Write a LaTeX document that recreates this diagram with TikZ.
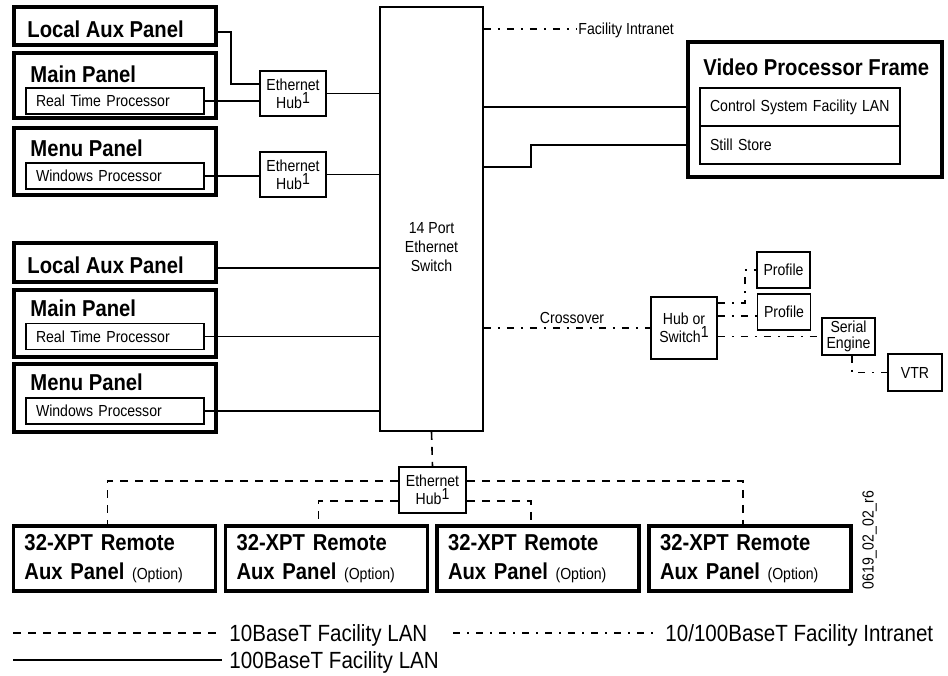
\documentclass[tikz,border=0pt]{standalone}
\usepackage{fontspec}
\setmainfont{Liberation Sans}[FakeStretch=0.88]
\newcommand{\supone}{\raisebox{2.5pt}{1}}
\newcommand{\optfont}{\fontsize{8}{9}\selectfont\mdseries}

\begin{document}
\begin{tikzpicture}[x=0.5pt,y=-0.5pt,
  lan100/.style={line width=0.8pt},
  lan10/.style={line width=0.8pt,dash pattern=on 4pt off 3.5pt},
  intranet/.style={line width=0.8pt,dash pattern=on 3.5pt off 3.5pt on 1pt off 3.5pt},
  panel/.style={draw,line width=1.7pt,minimum width=101pt,inner sep=0pt},
  rpanel/.style={panel,minimum height=32.5pt,text width=90pt,inner xsep=5.5pt,align=left,
    font=\fontsize{11.5}{14.5}\selectfont\bfseries},
  ptitle/.style={anchor=west,inner sep=0pt,text depth=0pt,font=\fontsize{11.5}{13}\selectfont\bfseries},
  subbox/.style={draw,line width=0.8pt,minimum height=13pt,text width=79pt,inner xsep=5pt,
    inner ysep=0pt,align=left,font=\fontsize{8}{9.5}\selectfont},
  hub/.style={draw,line width=0.8pt,minimum width=33pt,minimum height=22.5pt,inner sep=0pt,
    align=center,font=\fontsize{8}{9}\selectfont},
  dev/.style={draw,line width=0.8pt,minimum width=26.5pt,minimum height=18pt,inner sep=0pt,
    align=center,font=\fontsize{8}{7.8}\selectfont},
  smalltxt/.style={inner sep=0pt,text depth=0pt,font=\fontsize{8}{9.3}\selectfont},
  lbl/.style={anchor=west,inner xsep=1pt,inner ysep=0pt,text depth=0pt},
  legend/.style={lbl,inner xsep=3.5pt,font=\fontsize{11.7}{13}\selectfont}]
\useasboundingbox (0,0) rectangle (948,675);

% switch
\node[draw,lan100,minimum width=51.5pt,minimum height=212pt,inner sep=0pt] (sw) at (431.5,219) {};
\node[inner sep=0pt,align=center,font=\fontsize{8}{9.3}\selectfont] (swtxt) at (431.5,247) {14 Port\\Ethernet\\Switch};

% panels, top group
\node[panel,minimum height=19pt] (lap1) at (115,26) {};
\node[ptitle] (lap1t) at (27,29) {Local Aux Panel};
\node[panel,minimum height=32.5pt] (mp1) at (115,85.5) {};
\node[ptitle] (mp1t) at (30,74) {Main Panel};
\node[subbox] (rtp1) at (115,101) {Real Time Processor};
\node[panel,minimum height=33.5pt] (menu1) at (115,161.5) {};
\node[ptitle] (menu1t) at (30,148) {Menu Panel};
\node[subbox] (wp1) at (115,176) {Windows Processor};

\node[hub] (hub1) at (293,93.5) {Ethernet\\Hub\supone};
\node[hub] (hub2) at (293,174.5) {Ethernet\\Hub\supone};

\draw[lan100] ([yshift=-3pt]lap1.east) -- ++(6.5pt,0) |- ([yshift=4.75pt]hub1.west);
\draw[lan100] (rtp1.east) -- (rtp1.east -| hub1.west);
\draw[lan100] (hub1.east) -- (hub1.east -| sw.west);
\draw[lan100] (wp1.east) -- (wp1.east -| hub2.west);
\draw[lan100] (hub2.east) -- (hub2.east -| sw.west);

% panels, middle group
\node[panel,minimum height=19.5pt] (lap2) at (115,262.5) {};
\node[ptitle] (lap2t) at (27,265) {Local Aux Panel};
\node[panel,minimum height=33.5pt] (mp2) at (115,323.5) {};
\node[ptitle] (mp2t) at (30,308) {Main Panel};
\node[subbox] (rtp2) at (115,336.5) {Real Time Processor};
\node[panel,minimum height=34pt] (menu2) at (115,398) {};
\node[ptitle] (menu2t) at (30,382) {Menu Panel};
\node[subbox] (wp2) at (115,411) {Windows Processor};

\draw[lan100] ([yshift=-2.75pt]lap2.east) -- ([yshift=-2.75pt]lap2.east -| sw.west);
\draw[lan100] (rtp2.east) -- (rtp2.east -| sw.west);
\draw[lan100] (wp2.east) -- (wp2.east -| sw.west);

% video processor frame
\node[panel,minimum width=127pt,minimum height=67.5pt] (vpf) at (815,109.5) {};
\node[ptitle] (vpft) at (703,67.5) {Video Processor Frame};
\node[subbox,text width=90pt,minimum height=19pt] (csfl) at (800,107) {Control System Facility LAN};
\node[subbox,text width=90pt,minimum height=19pt] (ss) at (800,145) {Still Store};

\node[lbl,font=\fontsize{8}{9.3}\selectfont] (fitxt) at (576,29) {Facility Intranet};
\draw[intranet] (sw.east |- fitxt.west) -- (fitxt.west);
\draw[lan100] (sw.east |- csfl.west) -- (vpf.west |- csfl.west);
\coordinate (ssbend) at (531,167);
\draw[lan100] (sw.east |- ssbend) -- (ssbend) |- (vpf.west |- ss.west);

% crossover side
\node[hub,minimum height=31pt] (hos) at (684,328) {Hub or\\Switch\supone};
\node[smalltxt] (xover) at (572,318) {Crossover};
\draw[intranet] (sw.east |- hos.west) -- (hos.west);

\node[dev] (p1) at (783.5,270) {Profile};
\node[dev] (p2) at (784,312) {Profile};
\node[dev,minimum height=18.5pt] (se) at (848.5,336.5) {Serial\\Engine};
\node[dev,minimum width=27pt,minimum height=18.5pt] (vtr) at (915,372.5) {VTR};

\draw[intranet] ([yshift=12.5pt]hos.east) -- ++(13.5pt,0) |- (p1.west);
\coordinate (hp2) at ([yshift=6pt]hos.east);
\draw[intranet] (hp2) -- (hp2 -| p2.west);
\draw[intranet] (se.west -| hos.east) -- (se.west);
\draw[intranet] ([xshift=1.75pt]se.south) |- (vtr.west);

% remote panels
\node[hub,minimum width=33.5pt,minimum height=23pt] (hub3) at (432.5,490) {Ethernet\\Hub\supone};
\draw[lan10] (sw.south) -- (hub3.north);

\node[rpanel] (rp1) at (114.5,558.5) {32-XPT Remote\\Aux Panel {\optfont(Option)}};
\node[rpanel] (rp2) at (326.5,558.5) {32-XPT Remote\\Aux Panel {\optfont(Option)}};
\node[rpanel] (rp3) at (538,558.5) {32-XPT Remote\\Aux Panel {\optfont(Option)}};
\node[rpanel] (rp4) at (750,558.5) {32-XPT Remote\\Aux Panel {\optfont(Option)}};

\draw[lan10] ([yshift=4.5pt]hub3.west) -| ([xshift=-3.5pt]rp1.north);
\draw[lan10] ([yshift=-5.5pt]hub3.west) -| ([xshift=-4pt]rp2.north);
\draw[lan10] ([yshift=-5.5pt]hub3.east) -| ([xshift=-3.5pt]rp3.north);
\draw[lan10] ([yshift=4.5pt]hub3.east) -| ([xshift=-3.5pt]rp4.north);

\node[smalltxt,rotate=90] (code) at (868,540) {0619\_02\_02\_r6};

% legend
\coordinate (lg10) at (13,633);
\node[legend] (lg10txt) at (222,633) {10BaseT Facility LAN};
\draw[lan10] (lg10) -- (lg10txt.west);
\coordinate (lg100) at (13,660);
\node[legend] (lg100txt) at (222,660) {100BaseT Facility LAN};
\draw[lan100] (lg100) -- (lg100txt.west);
\coordinate (lgin) at (453,633);
\node[legend,inner xsep=2.5pt] (lgintxt) at (660,633) {10/100BaseT Facility Intranet};
\draw[intranet] (lgin) -- (lgintxt.west);
\end{tikzpicture}
\end{document}
